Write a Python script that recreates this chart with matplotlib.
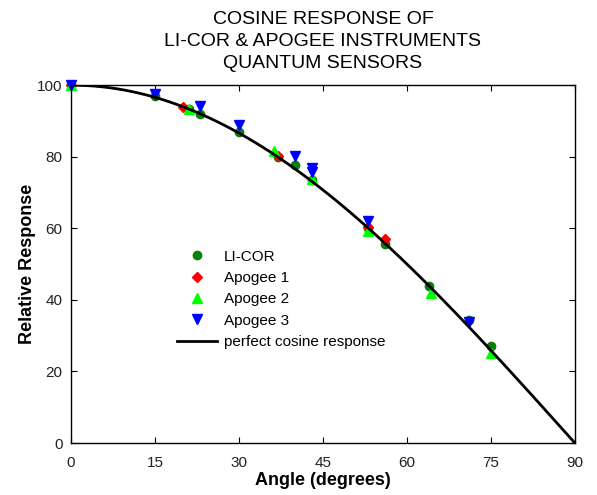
import numpy as np
import matplotlib
matplotlib.use("Agg")
import matplotlib.pyplot as plt

plt.rcParams['font.family'] = ['Liberation Sans', 'DejaVu Sans']

# data
licor_angle = [0, 15, 21, 23, 30, 37, 40, 43, 53, 56, 64, 71, 75]
licor_resp = [100, 97, 93.3, 92, 86.9, 80, 77.8, 73.5, 60, 55.5, 44, 34.5, 27.2]

apogee1_angle = [0, 20, 37, 53, 56]
apogee1_resp = [100, 94, 80.1, 60.3, 57.1]

apogee2_angle = [0, 21, 36.2, 43, 53, 64.3, 75]
apogee2_resp = [100, 93.3, 81.6, 73.8, 59.2, 42, 25.2]

apogee3_angle = [0, 15, 23, 30, 40, 43, 43, 53, 71]
apogee3_resp = [100, 97.5, 94.1, 89, 80.2, 76.8, 75.8, 61.9, 33.7]

# perfect cosine response
curve_angle = np.linspace(0, 90, 200)
curve_resp = 100 * np.cos(np.radians(curve_angle))

fig = plt.figure(figsize=(5.97, 4.95), dpi=100)
ax = fig.add_axes([0.119, 0.105, 0.844, 0.723])

ax.plot(licor_angle, licor_resp, 'o', color='#0a800a', markersize=6, label='LI-COR', clip_on=False)
ax.plot(apogee1_angle, apogee1_resp, 'D', color='#ff0000', markersize=5.5, label='Apogee 1', clip_on=False)
ax.plot(apogee2_angle, apogee2_resp, '^', color='#00ff00', markersize=6.5, label='Apogee 2', clip_on=False)
ax.plot(apogee3_angle, apogee3_resp, 'v', color='#0000ff', markersize=6.5, label='Apogee 3', clip_on=False)
ax.plot(curve_angle, curve_resp, '-', color='black', linewidth=2, label='perfect cosine response')

ax.set_xlim(0, 90)
ax.set_ylim(0, 100)
ax.set_xticks([0, 15, 30, 45, 60, 75, 90])
ax.set_yticks([0, 20, 40, 60, 80, 100])
ax.tick_params(direction='in', length=4, top=True, right=True, labelsize=11,
               labelcolor='#222222', pad=6)
ax.tick_params(axis='x', pad=9)
for s in ax.spines.values():
    s.set_linewidth(1)

ax.set_xlabel('Angle (degrees)', fontsize=13, fontweight='bold', labelpad=2)
ax.set_ylabel('Relative Response', fontsize=13, fontweight='bold', labelpad=1)
ax.set_title('COSINE RESPONSE OF\nLI-COR & APOGEE INSTRUMENTS\nQUANTUM SENSORS',
             fontsize=14, pad=12, linespacing=1.4)

ax.legend(loc='upper left', bbox_to_anchor=(0.21, 0.54), frameon=False, fontsize=11,
          handlelength=2.6, handletextpad=0.5, labelspacing=0.48,
          borderpad=0, borderaxespad=0, numpoints=1)

fig.savefig('out.png', dpi=100)
